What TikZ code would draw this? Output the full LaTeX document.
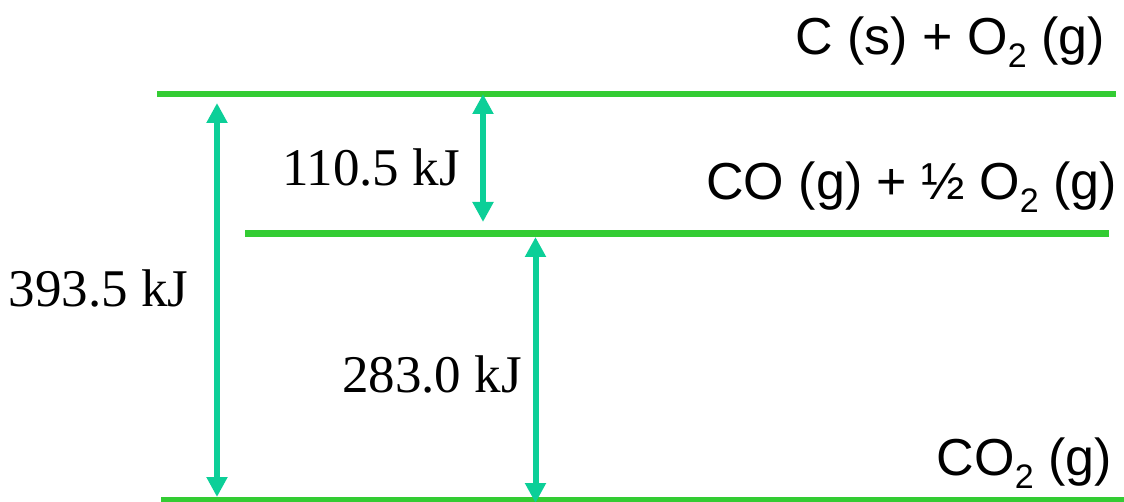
\documentclass[tikz,border=0pt]{standalone}
\usepackage{fontspec}
\setmainfont{Liberation Serif}
\newfontfamily\arialf{Liberation Sans}
\usetikzlibrary{arrows.meta}
\definecolor{levelgreen}{RGB}{51,204,51}
\definecolor{arrowteal}{RGB}{12,207,152}
\newcommand{\subtwo}{\raisebox{-13pt}{\fontsize{34}{36}\selectfont 2}}
\begin{document}
\begin{tikzpicture}[x=1pt,y=-1pt,
  level/.style={draw=levelgreen,line width=6.5pt},
  dh/.style={draw=arrowteal,line width=6pt,{Triangle[width=20pt,length=20pt]}-{Triangle[width=20pt,length=20pt]}},
  kj/.style={anchor=base,inner sep=0pt,font=\fontsize{53}{60}\selectfont},
  species/.style={anchor=base east,inner sep=0pt,font=\arialf\fontsize{52}{60}\selectfont}
]
\useasboundingbox (0,0) rectangle (1124,502);
\begin{scope}
\clip (0,0) rectangle (1124,502);
% energy levels
\coordinate (t1) at (157,94);   \coordinate (t2) at (1116,94);
\coordinate (m1) at (245,233.5); \coordinate (m2) at (1109,233.5);
\coordinate (b1) at (161,500.5); \coordinate (b2) at (1124,500.5);
\draw[level] (t1) -- (t2);
\draw[level] (m1) -- (m2);
\draw[level] (b1) -- (b2);
% arrow end points
\coordinate (a1t) at (217,103); \coordinate (a1b) at (217,497);
\coordinate (a2t) at (483,94);  \coordinate (a2b) at (483,222);
\coordinate (a3t) at (535.5,237); \coordinate (a3b) at (535.5,503);
\draw[dh] (a1t) -- (a1b);
\draw[dh] (a2t) -- (a2b);
\draw[dh] (a3t) -- (a3b);
\end{scope}
% labels
\node[kj] (l1) at (371,186) {110.5 kJ};
\node[kj] (l2) at (98.5,306.5) {393.5 kJ};
\node[kj] (l3) at (432,392) {283.0 kJ};
\node[species] (s1) at (1105,55) {C (s) + O\subtwo{} (g)};
\node[species] (s2) at (1117,200) {CO (g) + ½ O\subtwo{} (g)};
\node[species] (s3) at (1112,475) {CO\subtwo{} (g)};
\end{tikzpicture}
\end{document}
